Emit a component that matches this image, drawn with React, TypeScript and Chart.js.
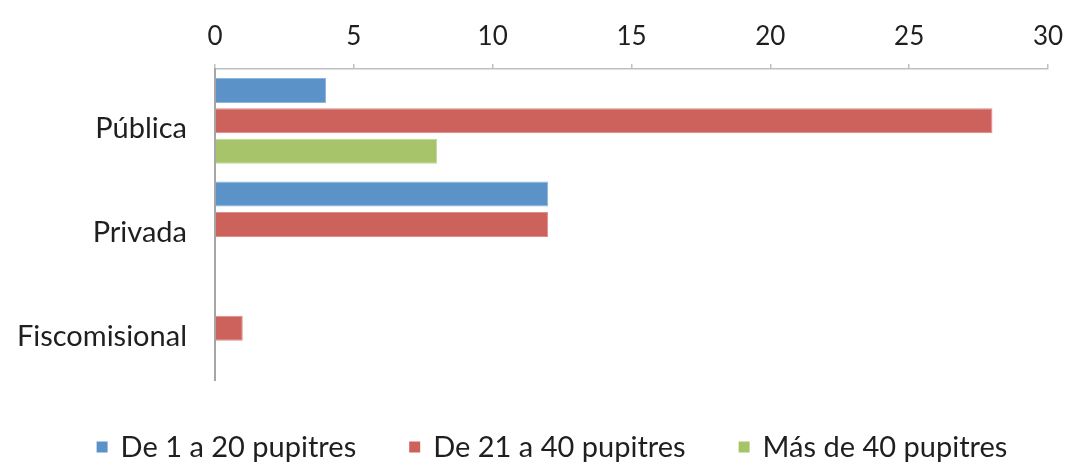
import React, { useEffect, useRef } from "react";
import { Chart, registerables } from "chart.js";

Chart.register(...registerables);

const categories = ["Pública", "Privada", "Fiscomisional"];
const seriesLabels = ["De 1 a 20 pupitres", "De 21 a 40 pupitres", "Más de 40 pupitres"];
const serie1 = [4, 12, 0];
const serie2 = [28, 12, 1];
const serie3 = [8, 0, 0];
const xMin = 0;
const xMax = 30;
const xStep = 5;

const fills = ["#5B93C9", "#CD625C", "#A8C46B"];
const borders = ["#8DB5DE", "#DE8E8A", "#C3D79A"];
const FONT = "Lato";
const TEXT = "#1F1F1F";

const legendPlugin = {
  id: "excelLegend",
  afterDraw(chart: any) {
    const ctx = chart.ctx;
    ctx.save();
    ctx.font = `29px ${FONT}`;
    ctx.textBaseline = "middle";
    const boxW = 11;
    const gapText = 13;
    const gapItem = 53;
    const items = chart.data.datasets.map((d: any) => ({
      label: d.label,
      color: d.backgroundColor,
      w: ctx.measureText(d.label).width,
    }));
    const total =
      items.reduce((s: number, it: any) => s + boxW + gapText + it.w, 0) +
      gapItem * (items.length - 1);
    let x = 552 - total / 2;
    const cy = 447;
    for (const it of items) {
      ctx.fillStyle = it.color;
      ctx.fillRect(x, cy - 5.5, boxW, boxW);
      x += boxW + gapText;
      ctx.fillStyle = TEXT;
      ctx.fillText(it.label, x, cy + 1);
      x += it.w + gapItem;
    }
    ctx.restore();
  },
};

export default function App() {
  const ref = useRef<HTMLCanvasElement | null>(null);
  useEffect(() => {
    if (!ref.current) return;
    const data = [serie1, serie2, serie3];
    const chart = new Chart(ref.current, {
      type: "bar",
      data: {
        labels: categories,
        datasets: seriesLabels.map((label, i) => ({
          label,
          data: data[i],
          backgroundColor: fills[i],
          borderColor: borders[i],
          borderWidth: (c: any) => (c.raw ? 1 : 0),
          categoryPercentage: 0.88,
          barPercentage: 0.82,
        })),
      },
      options: {
        indexAxis: "y",
        responsive: false,
        animation: false,
        layout: { padding: { left: 0, right: 21, top: 0, bottom: 84 } },
        plugins: {
          legend: { display: false },
          tooltip: { enabled: false },
        },
        scales: {
          x: {
            position: "top",
            min: xMin,
            max: xMax,
            ticks: {
              stepSize: xStep,
              font: { family: FONT, size: 26 },
              color: TEXT,
              padding: 12,
            },
            grid: {
              display: true,
              drawOnChartArea: false,
              drawTicks: true,
              tickLength: 5,
              color: "#BFBFBF",
              lineWidth: 1.5,
            },
            border: { display: true, color: "#BFBFBF", width: 1.5 },
            afterFit(scale: any) {
              scale.height = 69;
              scale.paddingLeft = 0;
              scale.paddingRight = 0;
            },
          },
          y: {
            ticks: {
              font: { family: FONT, size: 29 },
              color: TEXT,
              padding: 28,
              labelOffset: 8,
            },
            grid: { display: false, drawTicks: false },
            border: { display: true, color: "#A6A6A6", width: 2 },
            afterFit(scale: any) {
              scale.width = 215;
              scale.paddingTop = 0;
              scale.paddingBottom = 0;
            },
          },
        },
      } as any,
      plugins: [legendPlugin],
    });
    return () => chart.destroy();
  }, []);
  return (
    <div style={{ position: "absolute", left: 0, top: 0, width: 1069, height: 464, background: "#fff" }}>
      <canvas ref={ref} width={1069} height={464} style={{ display: "block" }} />
    </div>
  );
}
